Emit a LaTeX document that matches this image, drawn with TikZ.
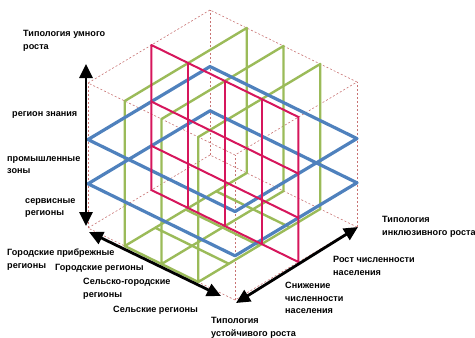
\documentclass[tikz,border=0pt]{standalone}
\usepackage{fontspec}
\setmainfont{Liberation Sans}
\usetikzlibrary{arrows.meta}
\definecolor{smartblue}{RGB}{79,129,189}
\definecolor{susgreen}{RGB}{155,187,89}
\definecolor{incred}{RGB}{214,22,92}
\definecolor{edgered}{RGB}{200,115,115}

\begin{document}
\begin{tikzpicture}[x=1pt,y=-1pt,font=\fontsize{9.1}{12.8}\selectfont\bfseries,
  cubeedge/.style={draw=edgered,line width=0.6pt,dash pattern=on 2pt off 2pt},
  susplane/.style={draw=susgreen,line width=2.4pt,line join=round},
  smartplane/.style={draw=smartblue,line width=3.2pt,line join=round},
  incplane/.style={draw=incred,line width=2pt,line join=round},
  axisarrow/.style={line width=2.8pt,{Triangle[length=14pt,width=13pt]}-{Triangle[length=14pt,width=13pt]}},
  lbl/.style={anchor=west,align=left,inner sep=0pt}]
\useasboundingbox (0,0) rectangle (475,338);

\begin{scope}[shift={(210pt,-155pt)},x={(-122pt,-73pt)},y={(147pt,-72pt)},z={(0pt,145pt)}]
% cube outline
\draw[cubeedge] (0,0,0) -- (1,0,0) -- (1,1,0) -- (0,1,0) -- cycle;
\draw[cubeedge] (0,0,1) -- (1,0,1) -- (1,1,1) -- (0,1,1) -- cycle;
\draw[cubeedge] (0,0,0) -- (0,0,1);
\draw[cubeedge] (1,0,0) -- (1,0,1);
\draw[cubeedge] (1,1,0) -- (1,1,1);
\draw[cubeedge] (0,1,0) -- (0,1,1);
% sustainable growth
\draw[susplane] (0,0.25,0) -- (1,0.25,0) -- (1,0.25,1) -- (0,0.25,1) -- cycle;
\draw[susplane] (0,0.5,0) -- (1,0.5,0) -- (1,0.5,1) -- (0,0.5,1) -- cycle;
\draw[susplane] (0,0.75,0) -- (1,0.75,0) -- (1,0.75,1) -- (0,0.75,1) -- cycle;
\draw[susplane] (0.25,0.25,0) -- (0.25,0.75,0);
\draw[susplane] (0.5,0.25,0) -- (0.5,0.75,0);
\draw[susplane] (0.75,0.25,0) -- (0.75,0.75,0);
\draw[susplane] (1,0.25,0) -- (1,0.75,0);
% smart growth
\draw[smartplane] (0,0,0.305) -- (1,0,0.305) -- (1,1,0.305) -- (0,1,0.305) -- cycle;
\draw[smartplane] (0,0,0.61) -- (1,0,0.61) -- (1,1,0.61) -- (0,1,0.61) -- cycle;
% inclusive growth
\draw[incplane] (0.48,0,0) -- (0.48,1,0) -- (0.48,1,1) -- (0.48,0,1) -- cycle;
\draw[incplane] (0.48,0.25,0) -- (0.48,0.25,1);
\draw[incplane] (0.48,0.5,0) -- (0.48,0.5,1);
\draw[incplane] (0.48,0.75,0) -- (0.48,0.75,1);
\draw[incplane] (0.48,0,0.305) -- (0.48,1,0.305);
\draw[incplane] (0.48,0,0.61) -- (0.48,1,0.61);
\end{scope}

\coordinate (smartlo) at (86,226);
\coordinate (smarthi) at (86,64);
\coordinate (susleft) at (89,232);
\coordinate (susright) at (221,296);
\coordinate (incleft) at (236,303);
\coordinate (incright) at (358,227);
\draw[axisarrow] (smartlo) -- (smarthi);
\draw[axisarrow] (susleft) -- (susright);
\draw[axisarrow] (incleft) -- (incright);

\node[lbl] (smartname) at (23,41) {Типология умного\\роста};
\node[lbl] (knowledge) at (12,115) {регион знания};
\node[lbl] (industry) at (7,165) {промышленные\\зоны};
\node[lbl] (service) at (25,208) {сервисные\\регионы};
\node[lbl] (coastal) at (7,260) {Городские прибрежные\\регионы};
\node[lbl] (urban) at (55,268) {Городские регионы};
\node[lbl] (ruralurban) at (83,289) {Сельско-городские\\регионы};
\node[lbl] (rural) at (113,310) {Сельские регионы};
\node[lbl] (susname) at (211,328) {Типология\\устойчивого роста};
\node[lbl] (incname) at (382,227) {Типология\\инклюзивного роста};
\node[lbl] (popup) at (333,266) {Рост численности\\населения};
\node[lbl] (popdown) at (285,298) {Снижение\\численности\\населения};
\end{tikzpicture}
\end{document}
